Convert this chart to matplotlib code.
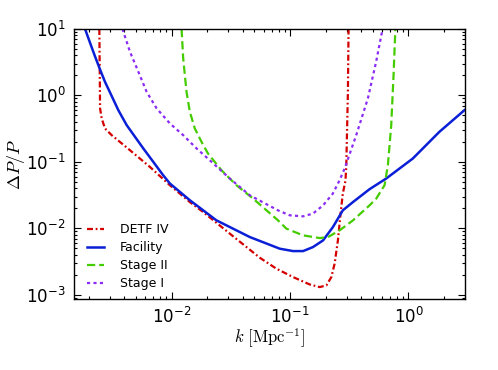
import matplotlib
matplotlib.use("Agg")
import matplotlib.pyplot as plt

plt.rcParams['mathtext.fontset'] = 'cm'
plt.rcParams['font.family'] = ['DejaVu Sans']

# DETF IV (red dash-dot)
k_detf = [0.002455, 0.00249, 0.00257, 0.00274, 0.00312, 0.00366, 0.00445, 0.0054,
          0.00656, 0.00968, 0.01426, 0.01846, 0.0310, 0.0555, 0.0767, 0.106,
          0.1465, 0.178, 0.2025, 0.2233, 0.2378, 0.2536, 0.267, 0.279, 0.294,
          0.2985, 0.308, 0.312]
p_detf = [10.0, 0.637, 0.45, 0.318, 0.252, 0.1995, 0.1496, 0.112,
          0.0838, 0.0444, 0.0248, 0.01755, 0.0083, 0.0036, 0.00246, 0.00184,
          0.001425, 0.0013, 0.001377, 0.00184, 0.00292, 0.00656, 0.0166, 0.0333, 0.0526,
          0.089, 1.13, 10.0]

# Facility (blue solid)
k_fac = [0.00186, 0.00205, 0.00226, 0.00249, 0.00274, 0.00312, 0.00355, 0.00418,
         0.00491, 0.00577, 0.0070, 0.00849, 0.00968, 0.01426,
         0.0239, 0.0458, 0.0819, 0.106, 0.129, 0.156, 0.190, 0.230, 0.279,
         0.340, 0.469, 0.648, 1.087, 1.82, 2.97]
p_fac = [10.0, 6.18, 3.84, 2.45, 1.60, 0.98, 0.60, 0.356,
         0.238, 0.159, 0.10, 0.0628, 0.0471, 0.0264,
         0.01315, 0.00736, 0.00492, 0.00453, 0.00453, 0.0052, 0.00656, 0.0104, 0.0186,
         0.0248, 0.0387, 0.056, 0.112, 0.282, 0.6]

# Stage II (green dashed)
k_s2 = [0.01214, 0.01253, 0.01337, 0.01426, 0.0157, 0.0179, 0.0203, 0.0264,
        0.0353, 0.0488, 0.0791, 0.0931, 0.1286, 0.178, 0.209, 0.262, 0.340,
        0.469, 0.534, 0.628, 0.670, 0.715, 0.748, 0.775]
p_s2 = [10.0, 3.61, 1.13, 0.566, 0.318, 0.1995, 0.1333, 0.0746,
        0.0444, 0.0279, 0.01315, 0.00986, 0.00782, 0.00711, 0.00736, 0.00929, 0.01315,
        0.0221, 0.0279, 0.0444, 0.089, 0.356, 2.02, 10.0]

# Stage I (purple dotted)
k_s1 = [0.00385, 0.00445, 0.00524, 0.00616, 0.00748, 0.00968, 0.01253, 0.01625,
        0.0210, 0.0310, 0.0458, 0.0791, 0.0993, 0.1286, 0.156, 0.190, 0.230,
        0.262, 0.289, 0.362, 0.454, 0.533, 0.604]
p_s1 = [10.0, 4.55, 2.27, 1.13, 0.637, 0.378, 0.252, 0.159,
        0.1057, 0.056, 0.0313, 0.0186, 0.01567, 0.0151, 0.0166, 0.0221, 0.0333,
        0.0528, 0.0793, 0.252, 0.90, 3.21, 10.0]

labels = ['DETF IV', 'Facility', 'Stage II', 'Stage I']

fig = plt.figure(figsize=(4.98, 3.70), dpi=100)
ax = fig.add_axes([74/498, 1-299/370, (465-74)/498, (299-29)/370])

lw = 1.6
ax.plot(k_detf, p_detf, color='#d40000', lw=lw, linestyle=(0, (2.7, 1.2, 0.8, 1.2)), label=labels[0])
ax.plot(k_fac, p_fac, color='#0a1fd6', lw=1.8, linestyle='-', label=labels[1])
ax.plot(k_s2, p_s2, color='#44cc00', lw=lw, linestyle=(0, (3.7, 1.8)), label=labels[2])
ax.plot(k_s1, p_s1, color='#8a2cf5', lw=lw, linestyle=(0, (1.4, 1.5)), label=labels[3])

ax.set_xscale('log')
ax.set_yscale('log')
ax.set_xlim(0.0015, 3.0)
ax.set_ylim(8.6e-4, 10.0)

ax.tick_params(which='both', direction='in', top=True, right=True, labelsize=12)
ax.tick_params(which='major', length=5, width=0.8, pad=6)
ax.tick_params(which='minor', length=2.5, width=0.8)
for s in ax.spines.values():
    s.set_linewidth(1.0)

ax.set_xlabel(r'$k\ [\mathrm{Mpc}^{-1}]$', fontsize=12, labelpad=-1)
ax.set_ylabel(r'$\Delta P/P$', fontsize=13, labelpad=-1)

leg = ax.legend(loc='lower left', frameon=False, fontsize=9, handlelength=1.36,
                handletextpad=1.3, labelspacing=0.4, borderaxespad=0.3,
                bbox_to_anchor=(0.01, 0.0))

fig.savefig('out.png', dpi=100)
